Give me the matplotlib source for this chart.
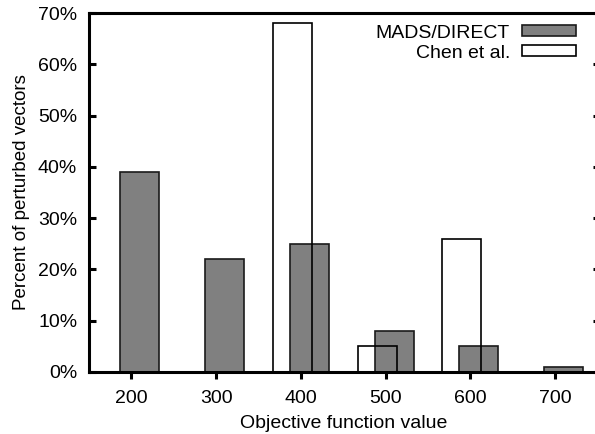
import matplotlib.pyplot as plt
import numpy as np

# значения по оси X и проценты для двух серий
objective_values = [200, 300, 400, 500, 600, 700]
mads_percent = [39, 22, 25, 8, 5, 1]
chen_values = [400, 500, 600]
chen_percent = [68, 5, 26]
y_ticks = [0, 10, 20, 30, 40, 50, 60, 70]

plt.rcParams['font.family'] = ['Liberation Sans', 'DejaVu Sans']

fig = plt.figure(figsize=(5.95, 4.34), dpi=100)
ax = fig.add_axes([0.1496, 0.143, 0.8544, 0.827])

bar_w = 46
ax.bar(np.array(objective_values) + 10, mads_percent, width=bar_w,
       color='#808080', edgecolor='#1a1a1a', linewidth=1.2, label='MADS/DIRECT', zorder=2)
ax.bar(np.array(chen_values) - 10, chen_percent, width=bar_w,
       facecolor='none', edgecolor='black', linewidth=1.2, label='Chen et al.', zorder=3)

ax.set_xlim(150, 750)
ax.set_ylim(0, 70)
ax.set_xticks(objective_values)
ax.set_yticks(y_ticks)
ax.set_yticklabels([f'{v}%' for v in y_ticks])

for side in ['left', 'bottom', 'top']:
    ax.spines[side].set_linewidth(2.2)
ax.spines['right'].set_visible(False)

ax.tick_params(axis='x', direction='out', length=5, width=2.2, labelsize=14, pad=8, top=False)
ax.tick_params(axis='y', direction='in', length=5, width=2.2, labelsize=14, pad=8.5,
               right=True)
for t in ax.yaxis.get_major_ticks():
    t.tick2line.set_markersize(3)

ax.set_xlabel('Objective function value', fontsize=14, labelpad=6)
ax.set_ylabel('Percent of perturbed vectors', fontsize=13.5, labelpad=6)

ax.legend(loc='upper right', frameon=False, markerfirst=False, fontsize=14,
          handlelength=2.8, handleheight=0.5, labelspacing=0.15, handletextpad=0.6,
          borderaxespad=0.2, bbox_to_anchor=(0.981, 1.0))

fig.savefig('out.png', dpi=100)
